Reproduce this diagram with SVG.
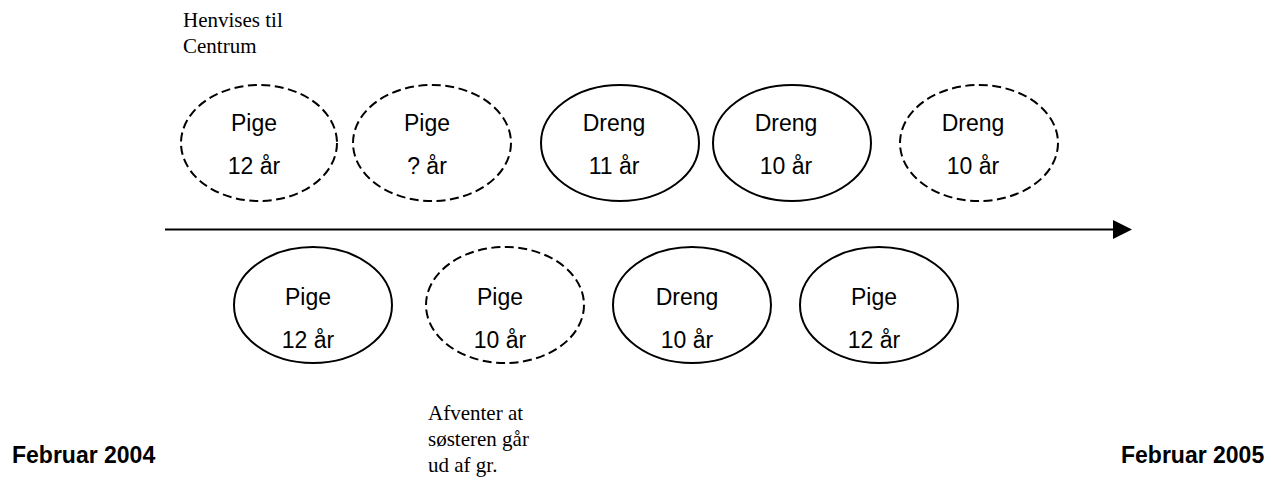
<svg xmlns="http://www.w3.org/2000/svg" width="1271" height="481" viewBox="0 0 1271 481">
<defs>
<style>
.solid{fill:#fff;stroke:#000;stroke-width:2}
.dash{fill:#fff;stroke:#000;stroke-width:2;stroke-dasharray:9 4.5}
.lbl{font-family:"Liberation Sans",Arial,sans-serif;font-size:23px;fill:#000;text-anchor:middle}
.note{font-family:"Liberation Serif","Times New Roman",serif;font-size:21px;fill:#000}
.date{font-family:"Liberation Sans",Arial,sans-serif;font-size:23px;font-weight:bold;fill:#000}
</style>
<marker id="arr" markerWidth="10" markerHeight="10" refX="0" refY="5" orient="auto" markerUnits="userSpaceOnUse" viewBox="0 0 10 10" overflow="visible">
<path d="M0,-4.5 L19,5 L0,14.5 Z" fill="#000"/>
</marker>
</defs>
<rect width="1271" height="481" fill="#fff"/>
<g id="connectors">
<line x1="165" y1="229.5" x2="1113" y2="229.5" stroke="#000" stroke-width="2" marker-end="url(#arr)"/>
</g>
<g id="note-henvises"><text class="note" x="183" y="27">Henvises til</text><text class="note" x="183" y="53">Centrum</text></g>
<g id="t1"><ellipse class="dash" cx="259" cy="143" rx="78" ry="58"/><text class="lbl" x="254" y="131">Pige</text><text class="lbl" x="254" y="174">12 år</text></g>
<g id="t2"><ellipse class="dash" cx="432" cy="143" rx="79" ry="58"/><text class="lbl" x="427" y="131">Pige</text><text class="lbl" x="427" y="174">? år</text></g>
<g id="t3"><ellipse class="solid" cx="620" cy="143" rx="79" ry="58"/><text class="lbl" x="614" y="131">Dreng</text><text class="lbl" x="614" y="174">11 år</text></g>
<g id="t4"><ellipse class="solid" cx="792" cy="143" rx="79" ry="58"/><text class="lbl" x="786" y="131">Dreng</text><text class="lbl" x="786" y="174">10 år</text></g>
<g id="t5"><ellipse class="dash" cx="979" cy="143" rx="79" ry="58"/><text class="lbl" x="973" y="131">Dreng</text><text class="lbl" x="973" y="174">10 år</text></g>
<g id="b1"><ellipse class="solid" cx="313" cy="305" rx="79" ry="58"/><text class="lbl" x="308" y="305">Pige</text><text class="lbl" x="308" y="348">12 år</text></g>
<g id="b2"><ellipse class="dash" cx="505" cy="305" rx="79" ry="58"/><text class="lbl" x="500" y="305">Pige</text><text class="lbl" x="500" y="348">10 år</text></g>
<g id="b3"><ellipse class="solid" cx="692" cy="305" rx="79" ry="58"/><text class="lbl" x="687" y="305">Dreng</text><text class="lbl" x="687" y="348">10 år</text></g>
<g id="b4"><ellipse class="solid" cx="879" cy="305" rx="79" ry="58"/><text class="lbl" x="874" y="305">Pige</text><text class="lbl" x="874" y="348">12 år</text></g>
<g id="note-afventer"><text class="note" x="428" y="420">Afventer at</text><text class="note" x="428" y="446">søsteren går</text><text class="note" x="428" y="472">ud af gr.</text></g>
<g id="date-start"><text class="date" x="12" y="463">Februar 2004</text></g>
<g id="date-end"><text class="date" x="1121" y="463">Februar 2005</text></g>
</svg>
